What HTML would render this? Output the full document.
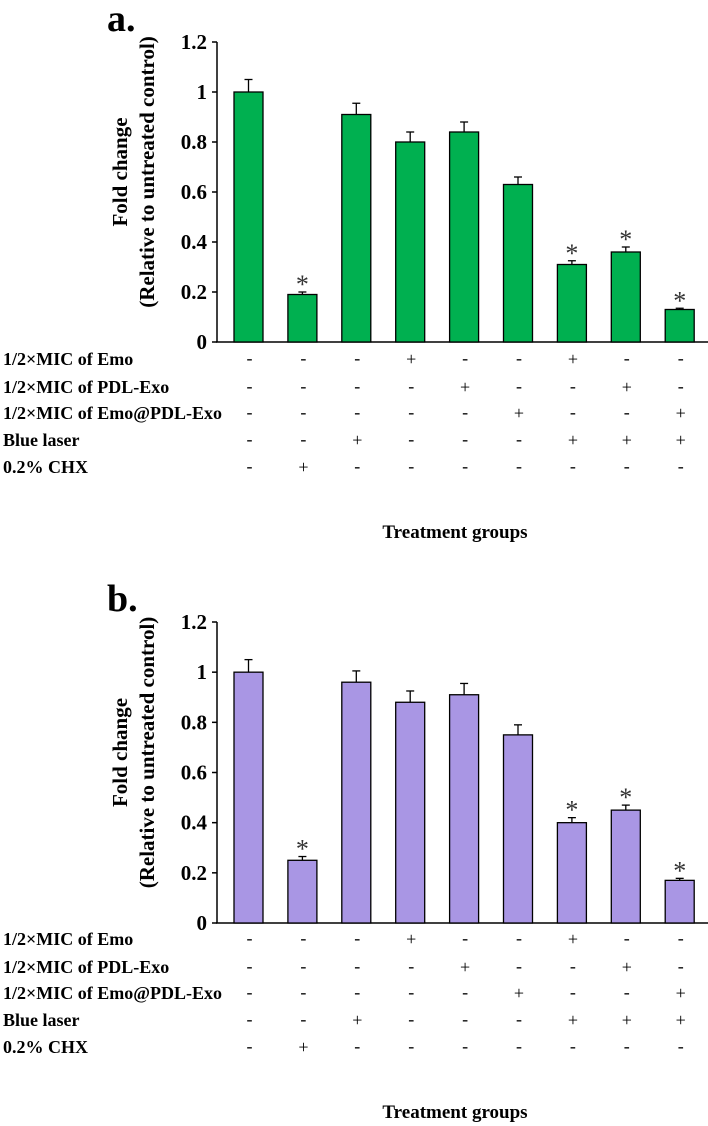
<!DOCTYPE html>
<html><head><meta charset="utf-8"><style>
body{margin:0;background:#fff;}
svg{display:block;font-family:"Liberation Serif",serif;}
</style></head><body>
<svg id="fig" width="708" height="1126" viewBox="0 0 708 1126"></svg>
<script>
const categories=["G1","G2","G3","G4","G5","G6","G7","G8","G9"];
const valuesA=[1,0.19,0.91,0.80,0.84,0.63,0.31,0.36,0.13];
const errorsA=[0.05,0.01,0.045,0.04,0.04,0.03,0.015,0.02,0.005];
const valuesB=[1,0.25,0.96,0.88,0.91,0.75,0.40,0.45,0.17];
const errorsB=[0.05,0.015,0.045,0.045,0.045,0.04,0.02,0.02,0.008];
const starred=[false,true,false,false,false,false,true,true,true];
const yTicks=[0,0.2,0.4,0.6,0.8,1,1.2];
const tickLabels=["0","0.2","0.4","0.6","0.8","1","1.2"];
const rowLabels=["1/2×MIC of Emo","1/2×MIC of PDL-Exo","1/2×MIC of Emo@PDL-Exo","Blue laser","0.2% CHX"];
const signs=[
 ["-","-","-","+","-","-","+","-","-"],
 ["-","-","-","-","+","-","-","+","-"],
 ["-","-","-","-","-","+","-","-","+"],
 ["-","-","+","-","-","-","+","+","+"],
 ["-","+","-","-","-","-","-","-","-"]
];
const NS="http://www.w3.org/2000/svg";
const svg=document.getElementById('fig');
function mk(tag,attrs,parent,text){const e=document.createElementNS(NS,tag);for(const k in attrs)e.setAttribute(k,attrs[k]);if(text!==undefined)e.textContent=text;(parent||svg).appendChild(e);return e;}
function panel(off,y0,y12,vals,errs,color,letter,key){
 const g=mk('g',{});
 
 
 const yS=v=>y0-(y0-y12)*v/1.2;
 const xS=i=>248.5+i*53.9;
 const t=mk('text',{x:107,y:off+31,'font-size':38,'font-weight':'bold'},g,letter);
 
 
 const ax=mk('line',{x1:217,y1:y12,x2:217,y2:y0,stroke:'#000','stroke-width':1.5},g);
 
 
 const xa=mk('line',{x1:216,y1:y0,x2:708,y2:y0,stroke:'#000','stroke-width':1.5},g);
 
 
 yTicks.forEach((v,i)=>{
  const y=yS(v);
  const tk=mk('line',{x1:212,y1:y,x2:217,y2:y,stroke:'#000','stroke-width':1.5},g);
  
  
  const tl=mk('text',{x:207,y:y+7,'font-size':21,'font-weight':'bold','text-anchor':'end'},g,tickLabels[i]);
  
  
 });
 const cy=(y0+y12)/2-20;
 const yt=mk('text',{transform:`translate(0,${cy}) rotate(-90)`,'font-size':21,'font-weight':'bold','text-anchor':'middle'},g);
 
 
 mk('tspan',{x:0,y:127},yt,'Fold change');
 mk('tspan',{x:0,y:154},yt,'(Relative to untreated control)');
 vals.forEach((v,i)=>{
  const x=xS(i), y=yS(v);
  const e=yS(v+errs[i]);
  const el=mk('line',{x1:x,y1:y,x2:x,y2:e,stroke:'#000','stroke-width':1.3},g);
  
  
  const ec=mk('line',{x1:x-4,y1:e,x2:x+4,y2:e,stroke:'#000','stroke-width':1.3},g);
  
  
  const b=mk('rect',{x:x-14.5,y:y,width:29,height:y0-y,fill:color,stroke:'#000','stroke-width':1.3},g);
  
  
  if(starred[i]){
   const s=mk('text',{x:x,y:e+1,'font-size':26,'text-anchor':'middle',fill:'#333'},g,'*');
   
   
  }
 });
 const rowY=[359,387,413,440,467];
 rowLabels.forEach((lab,r)=>{
  const ry=off+rowY[r]+6;
  const rl=mk('text',{x:3,y:ry,'font-size':18,'font-weight':'bold'},g,lab);
  
  
  signs[r].forEach((s,i)=>{
   const st=mk('text',{x:xS(i)+1,y:ry-(s==='-'?1:0),'font-size':18,'text-anchor':'middle'},g,s);
   
   
  });
 });
 const xt=mk('text',{x:455,y:off+538,'font-size':19,'font-weight':'bold','text-anchor':'middle'},g,'Treatment groups');
 
 
}
panel(0,342,42,valuesA,errorsA,'#00b050','a.','a');
panel(580,923,622,valuesB,errorsB,'#a996e4','b.','b');
</script>
</body></html>
